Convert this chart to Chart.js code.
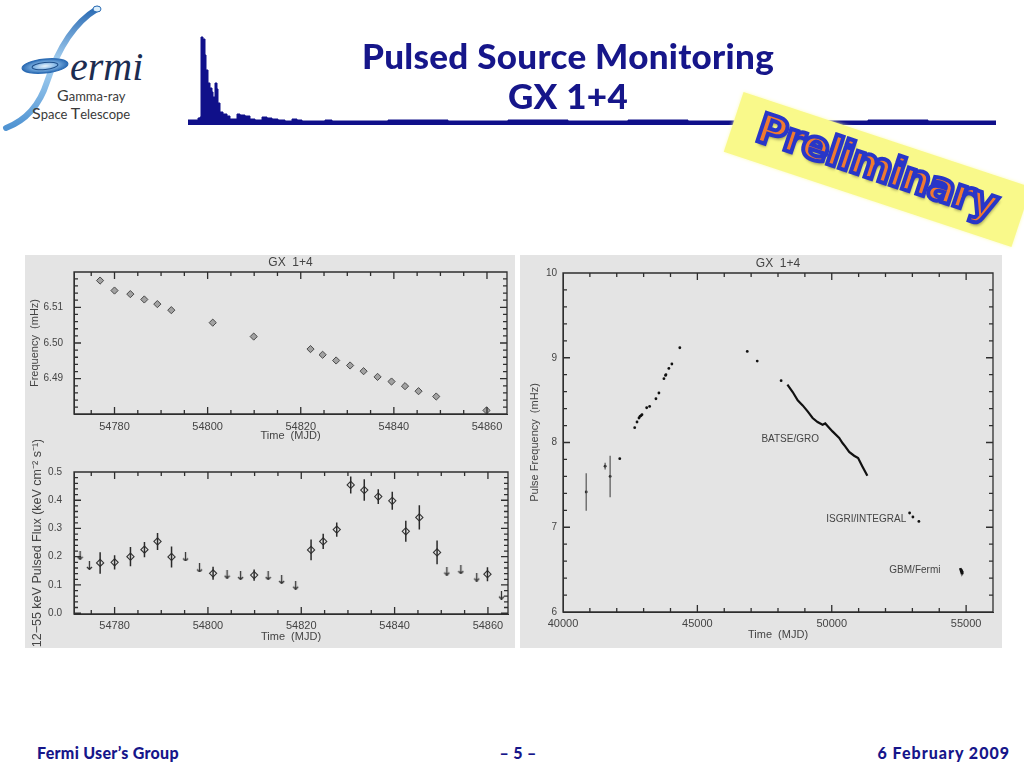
<!DOCTYPE html>
<html>
<head>
<meta charset="utf-8">
<title>Pulsed Source Monitoring - GX 1+4</title>
<script src="https://cdn.jsdelivr.net/npm/chart.js@4.4.1/dist/chart.umd.min.js"></script>
<style>
  html, body { margin: 0; padding: 0; background: #fff; }
  body { position: relative; width: 1024px; height: 768px; overflow: hidden; font-family: Lato, 'Open Sans', sans-serif; }
  canvas { position: absolute; }
  .panel { position: absolute; background: #e4e4e4; }
  .head { position: absolute; left: 262px; width: 612px; text-align: center; color: #16168a; font-weight: 900; font-size: 35px; line-height: 40px; letter-spacing: 0.3px; }
  .foot { position: absolute; top: 743px; color: #16168a; font-weight: 900; font-size: 16px; line-height: 20px; letter-spacing: 0.3px; }
  .stamp { position: absolute; left: 726px; top: 138px; width: 303px; height: 63px; background: #f9f98a; transform: rotate(18.3deg); box-shadow: 0 0 4px #fbfbb8; }
  .prelim { position: absolute; left: 717px; top: 141px; width: 320px; text-align: center; transform: rotate(18.3deg);
    font-family: 'DejaVu Sans', sans-serif; font-weight: bold; font-size: 41px; line-height: 50px; color: #f07a30;
    -webkit-text-stroke: 4px #2836c8; text-shadow: 2px 3px 3px rgba(0,0,0,0.35); letter-spacing: -1.5px; }
</style>
</head>
<body>

<svg style="position:absolute;left:0;top:0" width="190" height="140">
  <defs>
    <linearGradient id="tube" x1="0" y1="0" x2="0" y2="1">
      <stop offset="0" stop-color="#2c6cb4"/>
      <stop offset="0.45" stop-color="#a9d3f3"/>
      <stop offset="1" stop-color="#4f93d2"/>
    </linearGradient>
    <radialGradient id="disk" cx="0.5" cy="0.5" r="0.5">
      <stop offset="0" stop-color="#e8f3fc"/>
      <stop offset="0.5" stop-color="#7fb3e3"/>
      <stop offset="1" stop-color="#2c6cb4"/>
    </radialGradient>
  </defs>
  <path d="M97 9 C72 24 57 52 47 82 C40 104 27 120 6 128" fill="none" stroke="url(#tube)" stroke-width="6" stroke-linecap="round"/>
  <ellipse cx="97" cy="9" rx="4" ry="3" fill="#dbeefb" stroke="#2c6cb4" stroke-width="1"/>
  <ellipse cx="45" cy="66" rx="23" ry="7" fill="url(#disk)" stroke="#2c6cb4" stroke-width="1.2" transform="rotate(-6 45 66)"/>
  <ellipse cx="45" cy="66" rx="13" ry="3.5" fill="none" stroke="#1f4f8a" stroke-width="1" transform="rotate(-6 45 66)"/>
  <text x="70" y="80" font-family="'Liberation Serif', serif" font-style="italic" font-size="40" fill="#1c2c50">ermi</text>
  <text x="57" y="101" font-family="Lato, sans-serif" font-size="13" fill="#3a3a3a"><tspan font-size="16">G</tspan>amma-ray</text>
  <text x="32" y="119" font-family="Lato, sans-serif" font-size="13" fill="#3a3a3a"><tspan font-size="16">S</tspan>pace <tspan font-size="16">T</tspan>elescope</text>
</svg>

<canvas id="stripChart" width="808" height="95" style="left:188px;top:30px"></canvas>

<div class="head" style="top:35px">Pulsed Source Monitoring</div>
<div class="head" style="top:75px">GX 1+4</div>

<div class="stamp"></div>
<div class="prelim">Preliminary</div>

<div class="panel" style="left:25px;top:255px;width:490px;height:393px"></div>
<div class="panel" style="left:520px;top:255px;width:482px;height:393px"></div>
<canvas id="freqChart" width="490" height="190" style="left:25px;top:255px"></canvas>
<canvas id="fluxChart" width="490" height="208" style="left:25px;top:440px"></canvas>
<canvas id="historyChart" width="482" height="393" style="left:520px;top:255px"></canvas>

<div class="foot" style="left:37px">Fermi User’s Group</div>
<div class="foot" style="left:468px;width:100px;text-align:center">– 5 –</div>
<div class="foot" style="right:14px;letter-spacing:1px">6 February 2009</div>

<script>
// header strip: pulse profile (phase offset, counts)
const stripPhase = [0, 7, 10, 12, 13, 15, 17, 18, 20, 22, 24, 25, 27, 29, 30, 32, 35, 39, 42, 45, 49, 52, 57, 62, 67, 74, 79, 84, 90, 97, 104, 109, 114, 137, 144, 200, 260, 320, 380, 440, 500, 560, 620, 680, 740, 808];
const stripCounts = [5, 5, 7, 8, 88, 86, 70, 55, 42, 37, 33, 28, 42, 36, 22, 13, 11, 9, 6, 6, 11, 10, 9, 6, 5, 8, 7, 6, 5, 4, 6, 5, 4, 5, 4, 5, 4, 5, 4, 5, 4, 5, 4, 5, 4, 4];

// GBM detections (MJD), frequency (mHz) and 12-55 keV pulsed flux
const detTimes = [54776.9, 54780.0, 54783.4, 54786.4, 54789.2, 54792.2, 54801.1, 54809.9, 54822.1, 54824.7, 54827.6, 54830.6, 54833.5, 54836.5, 54839.5, 54842.4, 54845.3, 54849.1, 54859.9];
const detFreq = [6.5175, 6.5147, 6.5137, 6.5122, 6.5109, 6.5092, 6.5057, 6.5018, 6.4983, 6.4967, 6.4951, 6.4937, 6.4921, 6.4905, 6.4892, 6.4879, 6.4865, 6.4850, 6.4811];
const detFlux = [0.178, 0.180, 0.200, 0.225, 0.254, 0.199, 0.141, 0.135, 0.224, 0.254, 0.296, 0.454, 0.436, 0.413, 0.398, 0.290, 0.339, 0.215, 0.138];
const detFluxErr = [0.038, 0.025, 0.034, 0.027, 0.030, 0.037, 0.023, 0.020, 0.037, 0.027, 0.025, 0.030, 0.038, 0.026, 0.032, 0.037, 0.043, 0.042, 0.025];

// upper limits
const ulTimes = [54772.6, 54774.6, 54795.2, 54798.2, 54804.1, 54807.0, 54812.9, 54815.8, 54818.8, 54851.2, 54854.2, 54857.6, 54862.9];
const ulFlux = [0.205, 0.169, 0.199, 0.160, 0.138, 0.133, 0.133, 0.119, 0.099, 0.149, 0.154, 0.128, 0.064];

const mjdTicks = [54780, 54800, 54820, 54840, 54860];
const freqTicks = [6.49, 6.50, 6.51];
const fluxTicks = [0.0, 0.1, 0.2, 0.3, 0.4, 0.5];

// long-term history
const earlyTimes = [40863, 41567, 41753];
const earlyFreq = [7.416, 7.72, 7.60];
const earlyErr = [0.22, 0.04, 0.245];
const dotTimes = [42112, 42668, 42754, 42828, 42865, 42902, 42939, 43113, 43224, 43458, 43569, 43755, 43817, 43830, 43939, 44051, 44347, 46856, 47227, 48116];
const dotFreq = [7.809, 8.175, 8.242, 8.289, 8.308, 8.316, 8.328, 8.41, 8.426, 8.516, 8.584, 8.753, 8.792, 8.80, 8.874, 8.926, 9.118, 9.075, 8.961, 8.729];
const batseTimes = [48350, 48547, 48733, 48918, 49103, 49288, 49473, 49658, 49758, 49843, 50028, 50277, 50400, 50500, 50648, 50833, 50981, 51140, 51325];
const batseFreq = [8.682, 8.596, 8.497, 8.438, 8.367, 8.289, 8.242, 8.21, 8.225, 8.195, 8.131, 8.053, 7.994, 7.954, 7.888, 7.844, 7.817, 7.718, 7.608];
const isgriTimes = [52897, 53020, 53242];
const isgriFreq = [7.168, 7.121, 7.069];
const historyXTicks = [40000, 45000, 50000, 55000];
const historyYTicks = [6, 7, 8, 9, 10];
const noteText = ['BATSE/GRO', 'ISGRI/INTEGRAL', 'GBM/Fermi'];
const noteTimes = [47383, 49794, 52143];
const noteFreq = [8.033, 7.089, 6.487];

const TXT = '#444';
const AXIS = '#2e2e2e';
const FONT = "'Liberation Sans', Arial, sans-serif";

const pts = (xs, ys) => xs.map((x, i) => ({ x, y: ys[i] }));
const errSegments = (xs, ys, es) => xs.flatMap((x, i) => [
  { x, y: ys[i] - es[i] }, { x, y: ys[i] + es[i] }, { x, y: null }
]);

const arrowImg = (() => {
  const c = document.createElement('canvas');
  c.width = 7;
  c.height = 9;
  const g = c.getContext('2d');
  g.strokeStyle = '#333';
  g.lineWidth = 1.3;
  g.beginPath();
  g.moveTo(3.5, 0); g.lineTo(3.5, 8.5);
  g.moveTo(1, 6); g.lineTo(3.5, 8.5); g.lineTo(6, 6);
  g.stroke();
  return c;
})();

// IDL-style box: frame with inward ticks on all four sides, title and notes
const idlFrame = {
  id: 'idlFrame',
  afterDraw(chart) {
    const opts = chart.config.options.idl;
    const { ctx, chartArea: a, scales: { x, y } } = chart;
    const L = a.left, R = a.right, T = a.top, B = a.bottom;
    const isMajor = (scale, v, step) => scale.ticks.some((t) => Math.abs(t.value - v) < step / 4);
    ctx.save();
    ctx.strokeStyle = AXIS;
    ctx.lineWidth = 1.3;
    ctx.beginPath();
    ctx.moveTo(L, T); ctx.lineTo(R, T); ctx.lineTo(R, B); ctx.lineTo(L, B); ctx.closePath();
    const x0 = Math.ceil(x.min / opts.xMinor - 1e-6);
    for (let i = x0; i * opts.xMinor <= x.max; i++) {
      const v = i * opts.xMinor;
      const p = x.getPixelForValue(v);
      const len = isMajor(x, v, opts.xMinor) ? 7 : 4;
      ctx.moveTo(p, B); ctx.lineTo(p, B - len);
      ctx.moveTo(p, T); ctx.lineTo(p, T + len);
    }
    const y0 = Math.ceil(y.min / opts.yMinor - 1e-6);
    for (let i = y0; i * opts.yMinor <= y.max + 1e-9; i++) {
      const v = i * opts.yMinor;
      const p = y.getPixelForValue(v);
      const len = isMajor(y, v, opts.yMinor) ? 7 : 4;
      ctx.moveTo(L, p); ctx.lineTo(L + len, p);
      ctx.moveTo(R, p); ctx.lineTo(R - len, p);
    }
    ctx.stroke();
    ctx.fillStyle = TXT;
    ctx.textBaseline = 'middle';
    if (opts.title) {
      ctx.font = `12px ${FONT}`;
      ctx.textAlign = 'center';
      ctx.fillText(opts.title, (a.left + a.right) / 2, a.top - 9);
    }
    if (opts.notes) {
      ctx.font = `10px ${FONT}`;
      ctx.textAlign = 'left';
      opts.notes.forEach((n) => ctx.fillText(n.text, x.getPixelForValue(n.x), y.getPixelForValue(n.y)));
    }
    ctx.restore();
  }
};

const axisFont = (size) => ({ family: FONT, size });

const xAxis = (min, max, ticks, height, tickPad, titlePad) => ({
  type: 'linear',
  min,
  max,
  afterBuildTicks: (s) => { s.ticks = ticks.map((v) => ({ value: v })); },
  afterFit: (s) => { s.height = height; },
  grid: { display: false, drawTicks: false },
  border: { display: true, color: AXIS, width: 1 },
  ticks: { padding: tickPad, color: TXT, font: axisFont(11), maxRotation: 0, callback: (v) => String(v) },
  title: { display: true, text: 'Time  (MJD)', color: TXT, font: axisFont(11), padding: { top: 0, bottom: titlePad } }
});

const yAxis = (min, max, ticks, digits, width, tickPad, title, titleSize, titlePad) => ({
  type: 'linear',
  min,
  max,
  afterBuildTicks: (s) => { s.ticks = ticks.map((v) => ({ value: v })); },
  afterFit: (s) => { s.width = width; },
  grid: { display: false, drawTicks: false },
  border: { display: true, color: AXIS, width: 1 },
  ticks: { padding: tickPad, color: TXT, font: axisFont(10), callback: (v) => v.toFixed(digits) },
  title: { display: true, text: title, color: TXT, font: axisFont(titleSize), padding: { top: titlePad, bottom: 0 } }
});

const baseOptions = (padding, frame, scales) => ({
  responsive: false,
  animation: false,
  devicePixelRatio: 1,
  layout: { padding },
  idl: frame,
  plugins: { legend: { display: false }, tooltip: { enabled: false } },
  scales
});

// header strip
new Chart(document.getElementById('stripChart'), {
  type: 'line',
  data: {
    datasets: [{
      data: pts(stripPhase, stripCounts),
      stepped: true,
      fill: 'origin',
      backgroundColor: '#10108a',
      borderColor: '#10108a',
      borderWidth: 1,
      pointRadius: 0
    }]
  },
  options: {
    responsive: false,
    animation: false,
    plugins: { legend: { display: false }, tooltip: { enabled: false } },
    scales: {
      x: { type: 'linear', display: false, min: 0, max: 808 },
      y: { display: false, min: 0, max: 95 }
    }
  }
});

// frequency
new Chart(document.getElementById('freqChart'), {
  type: 'scatter',
  data: {
    datasets: [{
      data: pts(detTimes, detFreq),
      pointStyle: 'rectRot',
      pointRadius: 3.6,
      backgroundColor: '#a2a2a2',
      borderColor: '#4a4a4a',
      borderWidth: 1
    }]
  },
  options: baseOptions({ top: 17, right: 8 }, { xMinor: 5, yMinor: 0.002, title: 'GX  1+4' }, {
    x: xAxis(54771.3, 54864.3, mjdTicks, 31, 6, 2),
    y: yAxis(6.4801, 6.5199, freqTicks, 2, 49, 11, 'Frequency  (mHz)', 11, 3)
  }),
  plugins: [idlFrame]
});

// pulsed flux
new Chart(document.getElementById('fluxChart'), {
  type: 'scatter',
  data: {
    datasets: [
      {
        type: 'line',
        data: errSegments(detTimes, detFlux, detFluxErr),
        borderColor: '#2a2a2a',
        borderWidth: 1.5,
        pointRadius: 0,
        spanGaps: false
      },
      {
        data: pts(detTimes, detFlux),
        pointStyle: 'rectRot',
        pointRadius: 3.6,
        backgroundColor: '#e4e4e4',
        borderColor: '#333',
        borderWidth: 1.1
      },
      {
        data: pts(ulTimes, ulFlux),
        pointStyle: arrowImg
      }
    ]
  },
  options: baseOptions({ top: 32, right: 7 }, { xMinor: 5, yMinor: 0.02 }, {
    x: xAxis(54771.3, 54864.3, mjdTicks, 34, 5, 4),
    y: yAxis(-0.003, 0.5, fluxTicks, 1, 49, 12, '12−55 keV Pulsed Flux (keV cm⁻² s⁻¹)', 12.5, 5)
  }),
  plugins: [idlFrame]
});

// long-term pulse frequency history
new Chart(document.getElementById('historyChart'), {
  type: 'scatter',
  data: {
    datasets: [
      {
        type: 'line',
        data: errSegments(earlyTimes, earlyFreq, earlyErr),
        borderColor: '#555',
        borderWidth: 1.2,
        pointRadius: 0,
        spanGaps: false
      },
      {
        data: pts(earlyTimes.concat(dotTimes, isgriTimes), earlyFreq.concat(dotFreq, isgriFreq)),
        pointRadius: 1.4,
        backgroundColor: '#111',
        borderWidth: 0
      },
      {
        type: 'line',
        data: pts(batseTimes, batseFreq),
        borderColor: '#111',
        borderWidth: 2.2,
        pointRadius: 0
      },
      {
        type: 'line',
        data: pts(detTimes, detFreq),
        borderColor: '#111',
        borderWidth: 2.4,
        pointRadius: 0
      }
    ]
  },
  options: baseOptions({ top: 18, right: 9 }, {
    xMinor: 1000,
    yMinor: 0.2,
    title: 'GX  1+4',
    notes: noteText.map((text, i) => ({ text, x: noteTimes[i], y: noteFreq[i] }))
  }, {
    x: xAxis(40000, 56000, historyXTicks, 36, 5, 6),
    y: yAxis(6, 10, historyYTicks, 0, 43, 6, 'Pulse Frequency  (mHz)', 11, 8)
  }),
  plugins: [idlFrame]
});
</script>
</body>
</html>
